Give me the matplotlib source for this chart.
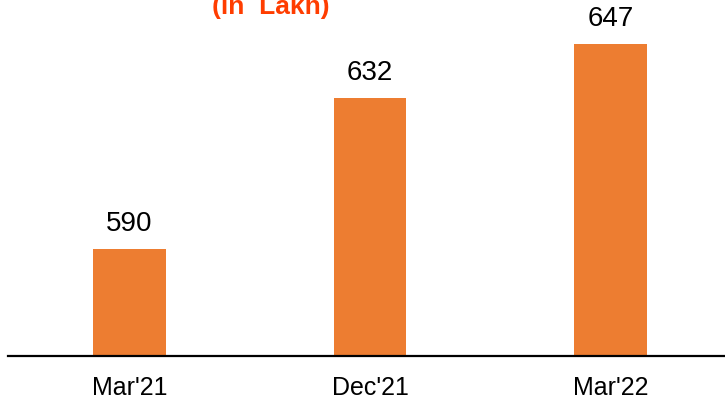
import matplotlib
matplotlib.use("Agg")
import matplotlib.pyplot as plt

periods = ["Mar'21", "Dec'21", "Mar'22"]
values = [590, 632, 647]

plt.rcParams['font.family'] = ['Liberation Sans', 'DejaVu Sans']

fig = plt.figure(figsize=(7.25, 4.06), dpi=100)
ax = fig.add_axes([0.011, 0.1207, 0.989, 0.879])

x = range(len(periods))
bars = ax.bar(x, values, width=0.30, color='#ED7D31')

for xi, v in zip(x, values):
    ax.text(xi, v + 3.6, str(v), ha='center', va='bottom', fontsize=20, color='black')

ax.set_xlim(-0.505, 2.476)
ax.set_ylim(560.3, 659.5)
ax.set_xticks(list(x))
ax.set_xticklabels(periods, fontsize=18)
ax.tick_params(axis='x', length=0, pad=14)
ax.set_yticks([])
for side in ['top', 'right', 'left']:
    ax.spines[side].set_visible(False)
ax.spines['bottom'].set_linewidth(1.6)

fig.text(271 / 725, 0.966, "(in  Lakh)", ha='center', va='baseline',
         fontsize=19, fontweight='bold', color='#FF3D00')

plt.savefig("out.png", dpi=100)
